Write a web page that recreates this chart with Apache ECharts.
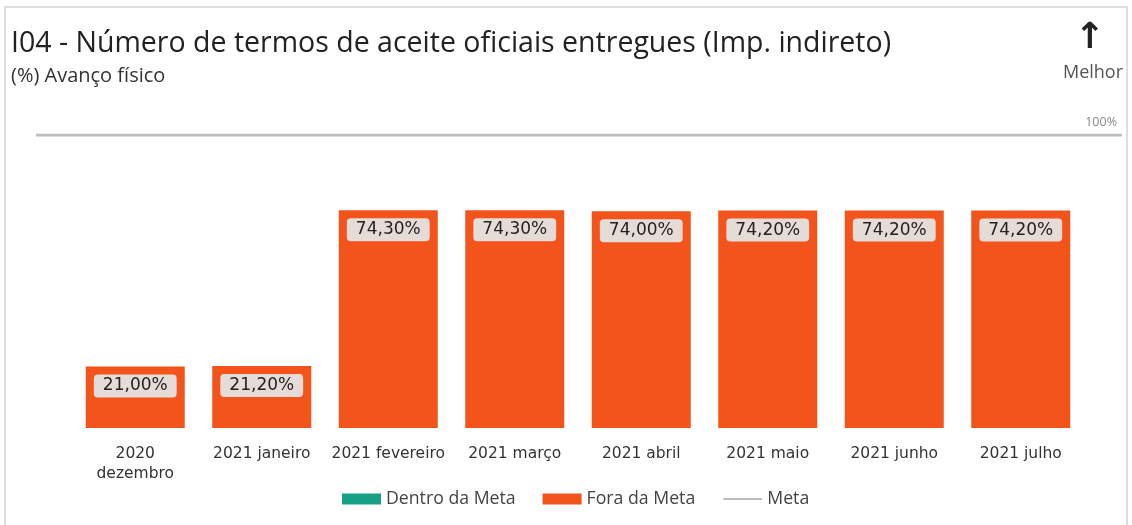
<!DOCTYPE html>
<html>
<head>
<meta charset="utf-8">
<script src="https://cdn.jsdelivr.net/npm/echarts@6/dist/echarts.min.js"></script>
<style>
  html, body { margin: 0; padding: 0; background: #fff; }
  .frame {
    position: absolute; left: 4px; top: 6px; width: 1124px; height: 540px;
    border: 2px solid #dedede; box-sizing: border-box;
  }
  #chart { position: absolute; left: 0; top: 0; width: 1132px; height: 525px; }
</style>
</head>
<body>
<div class="frame"></div>
<div id="chart"></div>
<script>
  // dados
  const categorias = ['2020\ndezembro', '2021 janeiro', '2021 fevereiro', '2021 março',
    '2021 abril', '2021 maio', '2021 junho', '2021 julho']
  const dentroMeta = [null, null, null, null, null, null, null, null]
  const foraMeta = [21.0, 21.2, 74.3, 74.3, 74.0, 74.2, 74.2, 74.2]
  const meta = [100, 100]

  const fmt = v => v.toFixed(2).replace('.', ',') + '%'

  const myEchart = echarts.init(document.getElementById('chart'))
  const option = {
    animation: false,
    title: [
      {
        text: 'I04 - Número de termos de aceite oficiais entregues (Imp. indireto)',
        left: 6, top: 24,
        textStyle: { fontFamily: 'Open Sans', fontSize: 28.5, fontWeight: 'normal', color: '#222' }
      },
      {
        text: '(%) Avanço físico',
        left: 6, top: 61,
        textStyle: { fontFamily: 'Open Sans', fontSize: 20, fontWeight: 'normal', color: '#333' }
      },
      {
        text: '↑',
        right: 22, top: 16,
        textStyle: { fontFamily: 'DejaVu Sans', fontSize: 36, fontWeight: 'bold', color: '#222' }
      },
      {
        text: 'Melhor',
        right: 4, top: 59,
        textStyle: { fontFamily: 'Open Sans', fontSize: 18, fontWeight: 'normal', color: '#555' }
      }
    ],
    legend: {
      bottom: 12, left: 337, itemWidth: 39, itemHeight: 11, itemGap: 27,
      textStyle: { fontFamily: 'Open Sans', fontSize: 17.7, color: '#444' },
      data: [
        { name: 'Dentro da Meta', icon: 'rect' },
        { name: 'Fora da Meta', icon: 'rect' },
        { name: 'Meta', itemStyle: { opacity: 0 } }
      ]
    },
    grid: [
      { left: 72, right: 48, top: 135, bottom: 97 },
      { left: 36, right: 10, top: 135, bottom: 97 }
    ],
    xAxis: [
      {
        type: 'category', gridIndex: 0, data: categorias,
        axisLine: { show: false }, axisTick: { show: false },
        axisLabel: {
          color: '#333', fontFamily: 'DejaVu Sans', fontSize: 15.5,
          margin: 16, lineHeight: 20, interval: 0
        }
      },
      {
        type: 'category', gridIndex: 1, data: ['a', 'b'], boundaryGap: false, show: false
      }
    ],
    yAxis: [
      { type: 'value', gridIndex: 0, min: 0, max: 100, show: false },
      { type: 'value', gridIndex: 1, min: 0, max: 100, show: false }
    ],
    series: [
      {
        name: 'Dentro da Meta', type: 'bar', stack: 's', data: dentroMeta,
        itemStyle: { color: '#16a085' }, barWidth: 99
      },
      {
        name: 'Fora da Meta', type: 'bar', stack: 's', data: foraMeta,
        itemStyle: { color: '#f2541b' }, barWidth: 99,
        label: {
          show: true, position: 'insideTop', distance: 8,
          formatter: p => fmt(p.value),
          fontFamily: 'DejaVu Sans', fontSize: 17, color: '#222',
          backgroundColor: '#e6dcd7', borderRadius: 4, padding: [3, 9, 3, 9]
        }
      },
      {
        name: 'Meta', type: 'line', xAxisIndex: 1, yAxisIndex: 1, data: meta,
        symbol: 'none', lineStyle: { color: '#bdbdbd', width: 3 },
        itemStyle: { color: '#bdbdbd' },
        endLabel: {
          show: true, formatter: '100%', align: 'right', verticalAlign: 'bottom',
          distance: 0, offset: [-5, -6],
          color: '#888', fontFamily: 'Open Sans', fontSize: 12.5
        }
      }
    ]
  }
  myEchart.setOption(option)
</script>
</body>
</html>
